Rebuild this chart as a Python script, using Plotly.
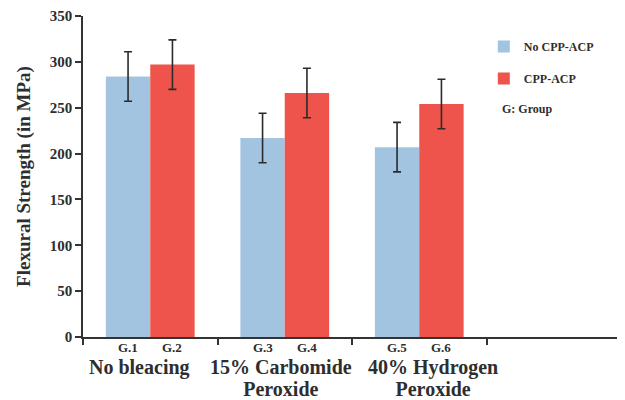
import plotly.graph_objects as go

categories = ["No bleacing", "15% Carbomide<br>Peroxide", "40% Hydrogen<br>Peroxide", " "]
series_names = ["No CPP-ACP", "CPP-ACP"]
no_cpp = [284, 217, 207]
no_cpp_err = [27, 27, 27]
cpp = [297, 266, 254]
cpp_err = [27, 27, 27]
group_labels_no = ["G.1", "G.3", "G.5"]
group_labels_cpp = ["G.2", "G.4", "G.6"]
y_ticks = [0, 50, 100, 150, 200, 250, 300, 350]

# horizontal nudges of the category captions (pixels), as in the original layout
label_nudge = [-11, -4, 14, 0]

FONT = "Liberation Serif, Times New Roman, serif"
TXT = "#2e2e2e"

fig = go.Figure()
fig.add_trace(go.Bar(
    x=categories[:3], y=no_cpp, name=series_names[0],
    marker=dict(color="#a3c4e0", line=dict(width=0)),
    error_y=dict(type="data", array=no_cpp_err, color="#2b2b2b", thickness=1.6, width=4),
    legendgroup="a",
))
fig.add_trace(go.Bar(
    x=categories[:3], y=cpp, name=series_names[1],
    marker=dict(color="#ee544b", line=dict(width=0)),
    error_y=dict(type="data", array=cpp_err, color="#2b2b2b", thickness=1.6, width=4),
    legendgroup="b",
))

for i in range(3):
    fig.add_annotation(x=categories[i], y=0, yref="y", text=group_labels_no[i],
                       xshift=-22, yshift=-10, showarrow=False,
                       font=dict(family=FONT, size=13, color=TXT, weight="bold"))
    fig.add_annotation(x=categories[i], y=0, yref="y", text=group_labels_cpp[i],
                       xshift=22, yshift=-10, showarrow=False,
                       font=dict(family=FONT, size=13, color=TXT, weight="bold"))

# category captions (larger glyphs, tight line spacing)
for i, c in enumerate(categories):
    if not c.strip():
        continue
    txt = "<br>".join('<span style="font-size:20px">%s</span>' % ln for ln in c.split("<br>"))
    fig.add_annotation(x=c, y=0, yref="y", text=txt, showarrow=False,
                       xanchor="center", yanchor="top", yshift=-17, xshift=label_nudge[i],
                       align="center",
                       font=dict(family=FONT, size=17, color=TXT, weight="bold"))

fig.add_annotation(x=0.775, y=0.71, xref="paper", yref="paper", text="G: Group",
                   showarrow=False, xanchor="left", yanchor="middle",
                   font=dict(family=FONT, size=12, color=TXT, weight="bold"))

fig.update_layout(
    width=625, height=400,
    margin=dict(l=75, r=12, t=8, b=71),
    paper_bgcolor="white", plot_bgcolor="white",
    barmode="group", bargap=0.34, bargroupgap=0,
    legend=dict(x=0.745, y=0.95, xanchor="left", yanchor="top",
                traceorder="grouped", tracegroupgap=13,
                font=dict(family=FONT, size=12, color=TXT, weight="bold"),
                bgcolor="rgba(0,0,0,0)"),
    xaxis=dict(
        type="category", categoryorder="array", categoryarray=categories,
        range=[-0.5, 3.5], showline=True, linecolor="#333", linewidth=1.5,
        ticks="outside", tickson="boundaries", ticklen=6, tickcolor="#333", tickwidth=1.5,
        showticklabels=False, automargin=False,
        showgrid=False,
    ),
    yaxis=dict(
        range=[0, 350], tickvals=y_ticks, showline=True, linecolor="#333", linewidth=1.5,
        ticks="outside", ticklen=6, tickcolor="#333", tickwidth=1.5, automargin=False,
        tickfont=dict(family=FONT, size=15, color=TXT, weight="bold"),
        showgrid=False, zeroline=False,
        title=dict(text="Flexural Strength (in MPa)", standoff=14,
                   font=dict(family=FONT, size=19, color=TXT, weight="bold")),
    ),
)

fig.write_html("out.html")
